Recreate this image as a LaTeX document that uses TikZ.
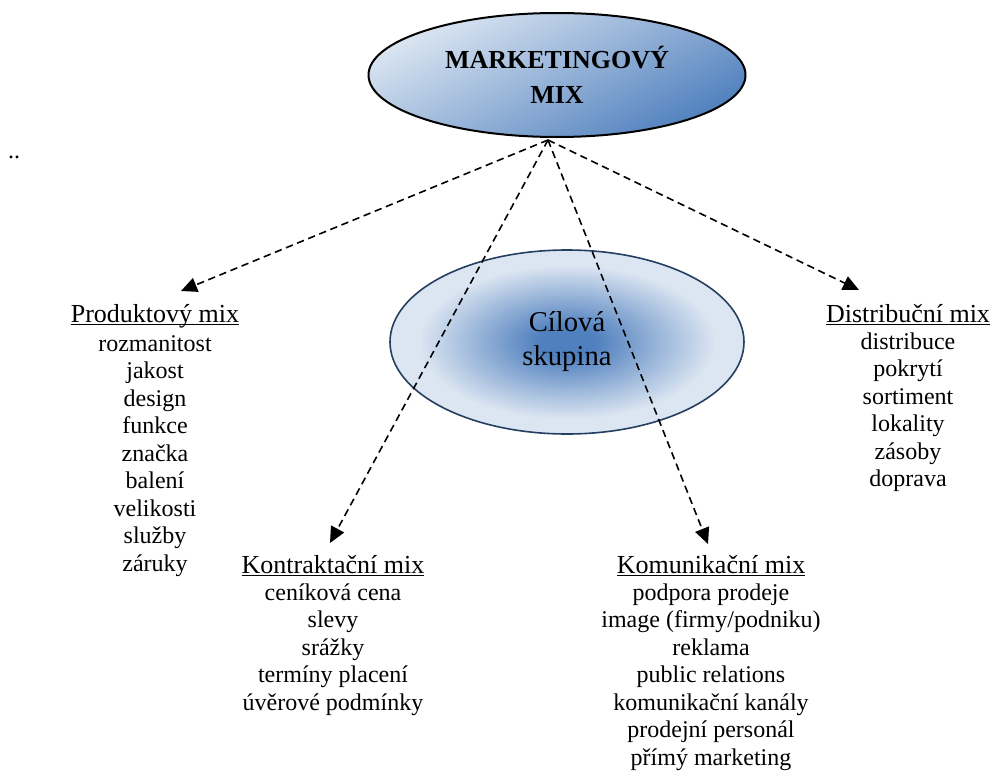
\documentclass[tikz,border=0pt]{standalone}
\usepackage{fontspec}
\setmainfont{Liberation Serif}
\usetikzlibrary{shapes.geometric,arrows.meta,positioning}
\definecolor{mixlight}{HTML}{DCE6F2}
\definecolor{mixblue}{HTML}{5080BE}
\definecolor{mixnavy}{HTML}{243F60}
\pgfdeclareradialshading{goalshade}{\pgfpoint{0bp}{0bp}}{color(0bp)=(mixblue); color(4bp)=(mixblue); color(21bp)=(mixlight); color(50bp)=(mixlight)}
\newcommand{\hdrline}[1]{\setbox0=\hbox{#1}\rlap{\rule[-2.6pt]{\wd0}{1.1pt}}\box0}
\begin{document}
\begin{tikzpicture}[x=0.75pt,y=-0.75pt, main node/.style={shape=ellipse, draw=black, line width=1.5pt, top color=mixlight, bottom color=mixblue, shading angle=28, align=center, font=\fontsize{19.5}{26.25}\selectfont\bfseries, minimum width=282.75pt, minimum height=93pt, inner sep=0pt}, goal node/.style={shape=ellipse, draw=mixnavy, line width=1.2pt, shading=goalshade, align=center, font=\fontsize{21.5}{25.5}\selectfont, minimum width=265.5pt, minimum height=138pt, inner sep=0pt}, head node/.style={inner sep=0pt, anchor=base, font=\fontsize{19.5}{21}\selectfont}, list node/.style={inner sep=0pt, align=center, font=\fontsize{18}{20.6}\selectfont}, mix arrow/.style={dash pattern=on 5.5pt off 3.5pt, line width=1.2pt, -{Triangle[length=12pt,width=11pt]}}]
\useasboundingbox (0,0) rectangle (993,771);
\node[main node] (MM) at (557,75) {MARKETINGOVÝ\\MIX};
\node[goal node] (CS) at (567,342) {Cílová\\skupina};
\node[list node, anchor=base] (dots) at (14,158) {..};
% headers
\node[head node] (PM) at (155,322) {\hdrline{Produktový mix}};
\node[head node] (KM) at (333,573) {\hdrline{Kontraktační mix}};
\node[head node] (OM) at (711,573) {\hdrline{Komunikační mix}};
\node[head node] (DM) at (908,322) {\hdrline{Distribuční mix}};
% lists
\node[list node, below=3pt of PM] (PL) {\strut rozmanitost\\jakost\\design\\funkce\\značka\\balení\\velikosti\\služby\\záruky};
\node[list node, below=3pt of KM] (KL) {\strut ceníková cena\\slevy\\srážky\\termíny placení\\úvěrové podmínky};
\node[list node, below=3pt of OM] (OL) {\strut podpora prodeje\\image (firmy/podniku)\\reklama\\public relations\\komunikační kanály\\prodejní personál\\přímý marketing};
\node[list node, below=3pt of DM] (DL) {\strut distribuce\\pokrytí\\sortiment\\lokality\\zásoby\\doprava};
% arrows
\coordinate (src) at (548,140);
\coordinate (PT) at (181,291);
\coordinate (KT) at (330,543);
\coordinate (OT) at (708,544);
\coordinate (DT) at (859,290);
\draw[mix arrow] (src) -- (PT);
\draw[mix arrow] (src) -- (KT);
\draw[mix arrow] (src) -- (OT);
\draw[mix arrow] (src) -- (DT);
\end{tikzpicture}
\end{document}
